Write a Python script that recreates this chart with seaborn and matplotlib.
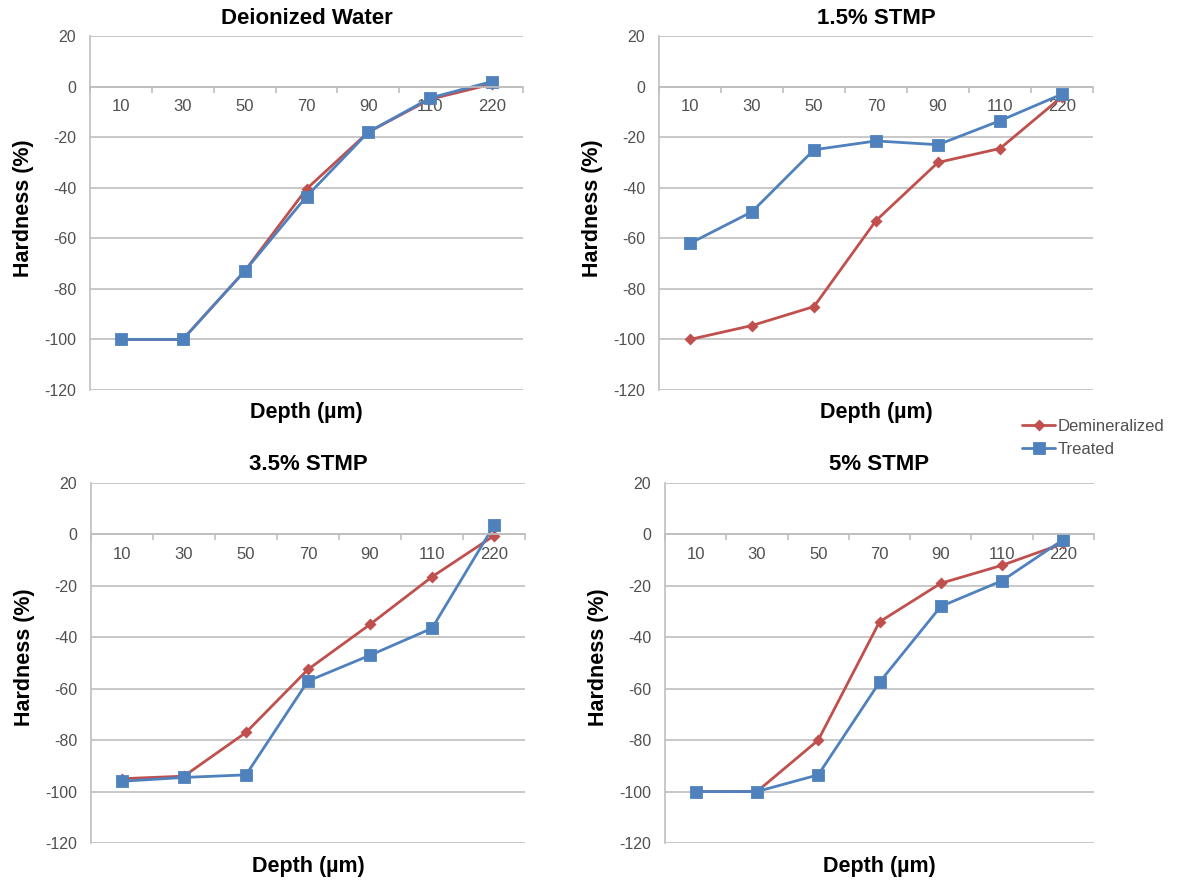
import numpy as np
import pandas as pd
import matplotlib
matplotlib.use('Agg')
import matplotlib.pyplot as plt
from matplotlib.ticker import FixedLocator
import seaborn as sns

# depth categories (µm) and panel titles
depths = ['10', '30', '50', '70', '90', '110', '220']
titles = ['Deionized Water', '1.5% STMP', '3.5% STMP', '5% STMP']
series = ['Demineralized', 'Treated']

# hardness change (%)
demin_water = [-100, -100, -73, -40.5, -18, -5, 1]
treat_water = [-100, -100, -73, -43.5, -18, -4.5, 2]
demin_15 = [-100, -94.5, -87, -53, -30, -24.5, -4]
treat_15 = [-62, -49.5, -25, -21.5, -23, -13.5, -3]
demin_35 = [-95, -94, -77, -52.5, -35, -16.5, -0.5]
treat_35 = [-96, -94.5, -93.5, -57, -47, -36.5, 3.5]
demin_5 = [-100, -100, -80, -34, -19, -12, -3.5]
treat_5 = [-100, -100, -93.5, -57.5, -28, -18, -2]

panels = [(demin_water, treat_water), (demin_15, treat_15),
          (demin_35, treat_35), (demin_5, treat_5)]

red = '#C0504D'
blue = '#4F81BD'
grid_col = '#BFBFBF'
txt_col = '#505050'

sns.set_theme(style='white')
plt.rcParams['font.family'] = ['Liberation Sans', 'DejaVu Sans']
plt.rcParams['axes.unicode_minus'] = False

W, H = 1177, 883
fig = plt.figure(figsize=(W / 100, H / 100), dpi=100)

# axes boxes in pixels: left, top, right, bottom
px_boxes = [(90, 36, 523, 390), (659, 36, 1093, 390),
            (91, 483, 525, 843), (665, 483, 1094, 843)]

handles = None
for (demin, treat), title, (l, t, r, b) in zip(panels, titles, px_boxes):
    ax = fig.add_axes([l / W, 1 - b / H, (r - l) / W, (b - t) / H])
    df = pd.DataFrame({
        'Depth': depths * 2,
        'Hardness': demin + treat,
        'Series': [series[0]] * len(depths) + [series[1]] * len(depths),
    })
    sns.pointplot(data=df, x='Depth', y='Hardness', hue='Series',
                  order=depths, hue_order=series, palette=[red, blue],
                  markers=['D', 's'], linestyles=['-', '-'],
                  errorbar=None, ax=ax, legend=True)
    for line in ax.lines:
        line.set_linewidth(2.0)
        if line.get_marker() == 'D':
            line.set_markersize(4.5)
        else:
            line.set_markersize(7.5)
    if handles is None:
        handles, labels = ax.get_legend_handles_labels()
    ax.get_legend().remove()

    ax.set_ylim(-120, 20)
    ax.set_yticks(np.arange(-120, 21, 20))
    ax.yaxis.grid(True, color=grid_col, lw=1.2)
    ax.xaxis.grid(False)
    ax.set_axisbelow(True)

    sns.despine(ax=ax, top=True, right=True)
    ax.spines['left'].set_color(grid_col)
    ax.spines['left'].set_linewidth(1.2)
    ax.spines['bottom'].set_position(('data', 0))
    ax.spines['bottom'].set_color(grid_col)
    ax.spines['bottom'].set_linewidth(1.2)

    ax.xaxis.set_minor_locator(FixedLocator(np.arange(-0.5, len(depths), 1.0)))
    ax.tick_params(axis='x', which='major', length=0, pad=9,
                   labelsize=12, labelcolor=txt_col)
    ax.tick_params(axis='x', which='minor', length=4, width=1.2,
                   color=grid_col, direction='out', bottom=True)
    ax.tick_params(axis='y', length=0, pad=10, labelsize=11.5,
                   labelcolor=txt_col)

    ax.set_title(title, fontsize=16, fontweight='bold', pad=9, color='black')
    ax.set_xlabel('Depth (µm)', fontsize=15.5, fontweight='bold', color='black')
    ax.xaxis.set_label_coords(0.5, -0.035)
    ax.set_ylabel('Hardness (%)', fontsize=15.5, fontweight='bold', color='black')
    ax.yaxis.set_label_coords(-0.13, 0.515)

fig.legend(handles, labels, loc='center left',
           bbox_to_anchor=(1022 / W, 1 - 438 / H), frameon=False,
           fontsize=12, handlelength=2.0, handletextpad=0.15,
           labelspacing=0.5, borderpad=0, borderaxespad=0,
           labelcolor=txt_col)

fig.savefig('out.png', dpi=100, facecolor='white')
